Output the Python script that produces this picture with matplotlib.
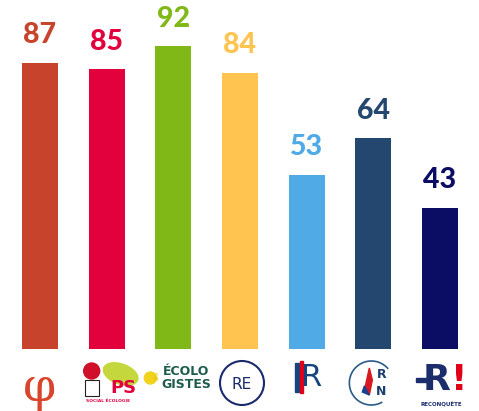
import matplotlib.pyplot as plt
import matplotlib.patches as mpatches

# data
parties = ['PCF', 'PS', 'Les Écologistes', 'Renaissance', 'LR', 'RN', 'Reconquête']
values = [87, 85, 92, 84, 53, 64, 43]
colors = ['#c8432b', '#e2003d', '#80b817', '#ffc34f', '#50aae6', '#244770', '#0b0c63']

W, H = 479, 411
fig = plt.figure(figsize=(W / 100, H / 100), dpi=100)
ax = fig.add_axes([0, 62 / H, 1, 349 / H])

x = list(range(len(values)))
ax.bar(x, values, width=0.54, color=colors)
ax.set_xlim(-0.6, 6.585)
ax.set_ylim(0, 106.1)
ax.axis('off')

for i, v in enumerate(values):
    ax.annotate(str(v), (i, v), xytext=(0, 14), textcoords='offset points',
                ha='center', va='baseline', fontsize=20.5, fontweight='black',
                family='Lato', color=colors[i])

# logo strip, in pixel units (y grows downwards like the image)
lg = fig.add_axes([0, 0, 1, 62 / H])
lg.set_xlim(0, W)
lg.set_ylim(H, 349)
lg.axis('off')

def cx(i):
    return (i + 0.6) / 7.185 * W

# PCF
c = cx(0)
lg.text(c, 388, 'φ', ha='center', va='center', fontsize=34, color='#d9442c',
        family='DejaVu Serif')

# PS
c = cx(1)
lg.add_patch(mpatches.Ellipse((c + 14, 374), 36, 20, angle=20, color='#c4d83e'))
lg.add_patch(mpatches.Rectangle((c - 22, 380), 14, 16, facecolor='white',
                                edgecolor='#222222', lw=0.8))
lg.add_patch(mpatches.Circle((c - 15, 371), 8, color='#d0102a'))
lg.text(c + 17, 388, 'PS', ha='center', va='center', fontsize=13,
        fontweight='bold', color='#e2003d', family='DejaVu Sans')
lg.text(c + 1, 401, 'SOCIAL ÉCOLOGIE', ha='center', va='center', fontsize=3.2,
        fontweight='bold', color='#e2003d')

# Les Écologistes
c = cx(2)
lg.add_patch(mpatches.Circle((c - 23, 378), 6, color='#f2d31b'))
lg.text(c - 16, 376, 'LES', rotation=90, ha='center', va='center', fontsize=3.5,
        color='#e0c200')
lg.text(c + 13, 378, 'ÉCOLO\nGISTES', ha='center', va='center', fontsize=9,
        fontweight='bold', color='#1d5c4d', linespacing=0.95)

# Renaissance
c = cx(3)
lg.add_patch(mpatches.Circle((c + 2, 383), 22, fill=False, edgecolor='#1a2a6c', lw=1.5))
lg.text(c + 2, 384, 'RE', ha='center', va='center', fontsize=11, color='#1a2a6c',
        family='DejaVu Sans')

# LR
c = cx(4)
lg.add_patch(mpatches.Rectangle((c - 12, 363), 4, 29, color='#16457e'))
lg.add_patch(mpatches.Rectangle((c - 7, 361), 3, 32, color='#e1001a'))
lg.text(c + 5, 377, 'R', ha='center', va='center', fontsize=22, color='#16457e',
        family='DejaVu Sans')

# RN
c = cx(5)
lg.add_patch(mpatches.Arc((c - 2, 383), 44, 44, theta1=60, theta2=320,
                          edgecolor='#2a5b8a', lw=1.2))
lg.add_patch(mpatches.Polygon([(c - 4, 368), (c - 1, 380), (c - 4, 395), (c - 8, 386)],
                              color='#d71920'))
lg.add_patch(mpatches.Polygon([(c - 4, 395), (c - 9, 386), (c - 11, 392)],
                              color='#1d3f8f'))
lg.text(c + 8, 375, 'R', ha='center', va='center', fontsize=9, fontweight='bold',
        color='#1d3f6f')
lg.text(c + 8, 391, 'N', ha='center', va='center', fontsize=9, fontweight='bold',
        color='#1d3f6f')

# Reconquête
c = cx(6)
lg.text(c - 3, 380, 'R', ha='center', va='center', fontsize=26, fontweight='bold',
        color='#1b2d6b', family='DejaVu Sans')
lg.add_patch(mpatches.Rectangle((c - 24, 378), 14, 4, color='#1b2d6b'))
lg.text(c + 19, 380, '!', ha='center', va='center', fontsize=26, fontweight='bold',
        color='#e1001a', family='DejaVu Sans')
lg.text(c + 1, 404, 'RECONQUÊTE', ha='center', va='center', fontsize=4,
        fontweight='bold', color='#1b2d6b')

fig.savefig('out.png', dpi=100)
